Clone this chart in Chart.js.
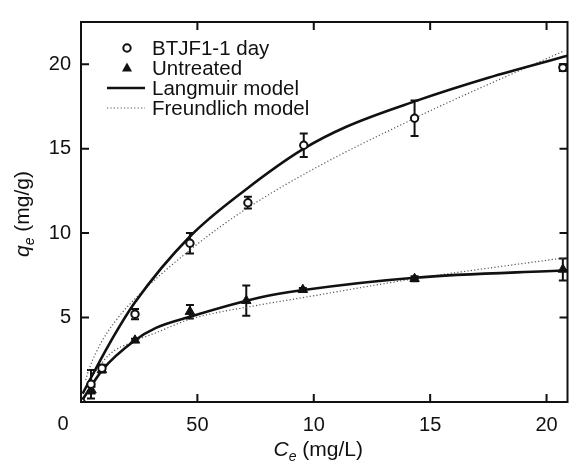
<!DOCTYPE html>
<html>
<head>
<meta charset="utf-8">
<script src="https://cdn.jsdelivr.net/npm/chart.js@4/dist/chart.umd.min.js"></script>
<style>
html,body{margin:0;padding:0;background:#fff;}
#wrap{width:574px;height:465px;position:relative;}
</style>
</head>
<body>
<div id="wrap"><canvas id="c" width="574" height="465"></canvas></div>
<script>
// ---- data ----
const xTickLabels = ["0", "50", "10", "15", "20"];
const xTickValues = [0, 50, 100, 150, 200];
const legendLabels = ["BTJF1-1 day", "Untreated", "Langmuir model", "Freundlich model"];

const btjfC   = [0, 4.3, 9, 23.2, 46.8, 71.7, 95.7, 143.3, 207];
const btjfQ   = [0, 1.05, 2.0, 5.2, 9.4, 11.8, 15.2, 16.8, 19.8];
const btjfErr = [0, 0.85, 0.2, 0.3, 0.6, 0.35, 0.7, 1.05, 0.2];

const untrC   = [0, 4.5, 9, 23.2, 46.8, 71, 95.3, 143.3, 207];
const untrQ   = [0, 0.7, 1.9, 3.65, 5.35, 6.0, 6.65, 7.3, 7.85];
const untrErr = [0, 0.2, 0.15, 0.1, 0.4, 0.9, 0.1, 0.15, 0.65];

const langBtjfC = [0.7, 12, 23.2, 46.8, 71, 95.7, 114, 143.3, 175, 209];
const langBtjfQ = [0.5, 3.4, 5.9, 9.8, 12.6, 15.0, 16.3, 17.8, 19.2, 20.5];

const freBtjfC = [2, 3.6, 8.6, 14.3, 21, 46.8, 71.7, 102.6, 143.3, 154, 207.7];
const freBtjfQ = [1.3, 2.0, 3.5, 4.7, 5.8, 9.0, 11.5, 14.0, 16.8, 17.5, 20.8];

const langUntrC = [0, 9.3, 22.9, 32.2, 46.8, 76.8, 94, 143.3, 209];
const langUntrQ = [0, 1.92, 3.63, 4.39, 5.05, 6.19, 6.6, 7.36, 7.8];

const freUntrC = [3, 12.1, 22.9, 32.2, 46.8, 76.8, 94, 143.3, 209];
const freUntrQ = [1.2, 2.8, 3.6, 4.1, 4.9, 5.75, 6.15, 7.3, 8.56];

// ---- helpers ----
const pts = (xs, ys) => xs.map((x, i) => ({x: x, y: ys[i]}));
const FONT = '"Liberation Sans", Arial, Helvetica, sans-serif';

const solidStyle = {borderColor: '#111', borderWidth: 2.6, borderDash: []};
const dotStyle = {borderColor: '#555', borderWidth: 1.2, borderDash: [1.2, 2.2]};

const errorBars = {
  id: 'errorBars',
  beforeDatasetsDraw(chart) {
    const ctx = chart.ctx, xs = chart.scales.x, ys = chart.scales.y;
    ctx.save();
    ctx.beginPath();
    ctx.rect(chart.chartArea.left, chart.chartArea.top, chart.chartArea.right - chart.chartArea.left, chart.chartArea.bottom - chart.chartArea.top);
    ctx.clip();
    ctx.strokeStyle = '#111';
    ctx.lineWidth = 2;
    chart.data.datasets.forEach(ds => {
      if (!ds.errors) return;
      ds.data.forEach((p, i) => {
        const e = ds.errors[i];
        if (!e) return;
        const px = xs.getPixelForValue(p.x);
        const t = ys.getPixelForValue(p.y + e), b = ys.getPixelForValue(p.y - e);
        ctx.beginPath();
        ctx.moveTo(px, t); ctx.lineTo(px, b);
        ctx.moveTo(px - 4, t); ctx.lineTo(px + 4, t);
        ctx.moveTo(px - 4, b); ctx.lineTo(px + 4, b);
        ctx.stroke();
      });
    });
    ctx.restore();
  }
};

const frameAndText = {
  id: 'frameAndText',
  afterDraw(chart) {
    const ctx = chart.ctx, a = chart.chartArea, xs = chart.scales.x, ys = chart.scales.y;
    ctx.save();
    // frame
    ctx.strokeStyle = '#111';
    ctx.lineWidth = 2;
    ctx.strokeRect(a.left, a.top, a.right - a.left, a.bottom - a.top);
    // inward ticks
    ctx.lineWidth = 2;
    const TL = 8;
    xs.ticks.forEach(t => {
      if (t.value === 0) return;
      const px = xs.getPixelForValue(t.value);
      ctx.beginPath();
      ctx.moveTo(px, a.bottom); ctx.lineTo(px, a.bottom - TL);
      ctx.moveTo(px, a.top); ctx.lineTo(px, a.top + TL);
      ctx.stroke();
    });
    ys.ticks.forEach(t => {
      if (t.value === 0) return;
      const py = ys.getPixelForValue(t.value);
      ctx.beginPath();
      ctx.moveTo(a.left, py); ctx.lineTo(a.left + TL, py);
      ctx.moveTo(a.right, py); ctx.lineTo(a.right - TL, py);
      ctx.stroke();
    });
    // origin label
    ctx.fillStyle = '#111';
    ctx.font = '20px ' + FONT;
    ctx.textAlign = 'center';
    ctx.textBaseline = 'alphabetic';
    ctx.fillText(xTickLabels[0], xs.getPixelForValue(0) - 18, 430);

    const drawTitle = (parts) => {
      let w = 0;
      parts.forEach(p => { ctx.font = p.f; w += ctx.measureText(p.t).width; });
      let x = -w / 2;
      ctx.textAlign = 'left';
      parts.forEach(p => { ctx.font = p.f; ctx.fillText(p.t, x, p.dy || 0); x += ctx.measureText(p.t).width; });
    };
    // x title: C_e (mg/L)
    ctx.save();
    ctx.translate((a.left + a.right) / 2 - 6, 456);
    drawTitle([
      {t: 'C', f: 'italic 21px ' + FONT},
      {t: 'e', f: 'italic 14px ' + FONT, dy: 5},
      {t: ' (mg/L)', f: '21px ' + FONT}
    ]);
    ctx.restore();
    // y title: q_e (mg/g)
    ctx.save();
    ctx.translate(29, (a.top + a.bottom) / 2 + 2);
    ctx.rotate(-Math.PI / 2);
    drawTitle([
      {t: 'q', f: 'italic 21px ' + FONT},
      {t: 'e', f: 'italic 14px ' + FONT, dy: 5},
      {t: ' (mg/g)', f: '21px ' + FONT}
    ]);
    ctx.restore();

    // legend
    const lx = 127, tx = 152, rows = [48, 68, 88, 108];
    ctx.font = '20.5px ' + FONT;
    ctx.textAlign = 'left';
    ctx.textBaseline = 'middle';
    legendLabels.forEach((lab, i) => ctx.fillText(lab, tx, rows[i] + 1));
    ctx.beginPath();
    ctx.arc(lx, rows[0], 3.7, 0, Math.PI * 2);
    ctx.fillStyle = '#fff'; ctx.fill();
    ctx.lineWidth = 2; ctx.strokeStyle = '#111'; ctx.stroke();
    ctx.fillStyle = '#111';
    ctx.beginPath();
    ctx.moveTo(lx, rows[1] - 5.5);
    ctx.lineTo(lx + 5, rows[1] + 3.5);
    ctx.lineTo(lx - 5, rows[1] + 3.5);
    ctx.closePath(); ctx.fill();
    ctx.beginPath();
    ctx.lineWidth = solidStyle.borderWidth; ctx.strokeStyle = solidStyle.borderColor;
    ctx.moveTo(107, rows[2]); ctx.lineTo(145, rows[2]); ctx.stroke();
    ctx.beginPath();
    ctx.setLineDash(dotStyle.borderDash);
    ctx.lineWidth = dotStyle.borderWidth; ctx.strokeStyle = dotStyle.borderColor;
    ctx.moveTo(107, rows[3]); ctx.lineTo(145, rows[3]); ctx.stroke();
    ctx.setLineDash([]);
    ctx.restore();
  }
};

const lineDs = (label, xs, ys, style) => Object.assign({
  type: 'line', label: label, data: pts(xs, ys), showLine: true, pointRadius: 0,
  fill: false, cubicInterpolationMode: 'monotone'
}, style);

new Chart(document.getElementById('c'), {
  type: 'scatter',
  data: {
    datasets: [
      {label: legendLabels[0], data: pts(btjfC, btjfQ), errors: btjfErr, pointStyle: 'circle',
       pointRadius: 3.7, pointBackgroundColor: '#fff', pointBorderColor: '#111', pointBorderWidth: 2, showLine: false},
      {label: legendLabels[1], data: pts(untrC, untrQ), errors: untrErr, pointStyle: 'triangle',
       pointRadius: 5.5, pointBackgroundColor: '#111', pointBorderColor: '#111', pointBorderWidth: 1, showLine: false},
      lineDs(legendLabels[2], langBtjfC, langBtjfQ, solidStyle),
      lineDs(legendLabels[2], langUntrC, langUntrQ, solidStyle),
      lineDs(legendLabels[3], freBtjfC, freBtjfQ, dotStyle),
      lineDs(legendLabels[3], freUntrC, freUntrQ, dotStyle)
    ]
  },
  options: {
    responsive: false,
    animation: false,
    layout: {padding: {left: 0, right: 6, top: 7, bottom: 0}},
    plugins: {legend: {display: false}, tooltip: {enabled: false}},
    scales: {
      x: {
        type: 'linear', min: 0, max: 209,
        afterBuildTicks: s => { s.ticks = xTickValues.map(v => ({value: v})); },
        afterFit: s => { s.height = 63; },
        grid: {display: false, drawTicks: false},
        border: {display: false},
        ticks: {
          padding: 11, color: '#111', font: {family: FONT, size: 20},
          maxRotation: 0, autoSkip: false,
          callback: (v) => { const i = xTickValues.indexOf(v); return i > 0 ? xTickLabels[i] : ''; }
        }
      },
      y: {
        type: 'linear', min: 0, max: 22.5,
        afterBuildTicks: s => { s.ticks = s.ticks.filter(t => t.value % 5 === 0); },
        afterFit: s => { s.width = 81; },
        grid: {display: false, drawTicks: false},
        border: {display: false},
        ticks: {
          stepSize: 5, padding: 10, color: '#111', font: {family: FONT, size: 20},
          callback: (v) => v === 0 ? '' : String(v)
        }
      }
    }
  },
  plugins: [errorBars, frameAndText]
});
</script>
</body>
</html>
